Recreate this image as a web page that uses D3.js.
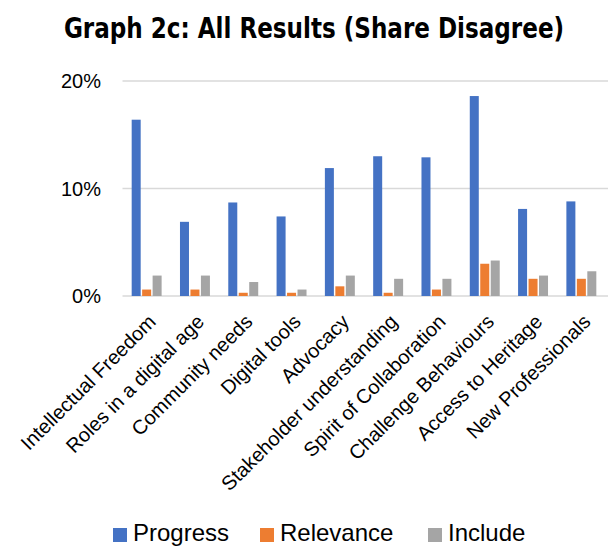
<!DOCTYPE html>
<html>
<head>
<meta charset="utf-8">
<script src="https://cdn.jsdelivr.net/npm/d3@7"></script>
<style>
  body { margin: 0; background: #fff; }
  svg { display: block; }
</style>
</head>
<body>
<svg id="chart" width="610" height="546"></svg>
<script>
const categories = [
  'Intellectual Freedom', 'Roles in a digital age', 'Community needs', 'Digital tools',
  'Advocacy', 'Stakeholder understanding', 'Spirit of Collaboration',
  'Challenge Behaviours', 'Access to Heritage', 'New Professionals'
];
const progress = [16.4, 6.9, 8.7, 7.4, 11.9, 13.0, 12.9, 18.6, 8.1, 8.8];
const relevance = [0.6, 0.6, 0.3, 0.3, 0.9, 0.3, 0.6, 3.0, 1.6, 1.6];
const include = [1.9, 1.9, 1.3, 0.6, 1.9, 1.6, 1.6, 3.3, 1.9, 2.3];
const seriesNames = ['Progress', 'Relevance', 'Include'];
const colors = ['#4472c4', '#ed7d31', '#a5a5a5'];
const yTicks = [0, 10, 20];

const seriesValues = [progress, relevance, include];
const svg = d3.select('#chart');
const font = '"Liberation Sans", Arial, sans-serif';

const plotLeft = 122.5, plotRight = 605.5, plotTop = 81, plotBottom = 296;

const x = d3.scaleBand().domain(categories).range([plotLeft, plotRight]).paddingInner(0.38).paddingOuter(0.19);
const xs = d3.scaleBand().domain(seriesNames).range([0, x.bandwidth()]).paddingInner(0.14);
const y = d3.scaleLinear().domain([0, 20]).range([plotBottom, plotTop]);

// title (condensed bold, squeezed a bit more horizontally)
svg.append('text')
  .attr('transform', 'translate(314,38) scale(0.9,1)')
  .attr('text-anchor', 'middle')
  .style('font-family', '"DejaVu Sans Condensed", "Liberation Sans", sans-serif')
  .style('font-weight', 'bold')
  .style('font-size', '28.5px')
  .attr('fill', '#000')
  .text('Graph 2c: All Results (Share Disagree)');

// gridlines
svg.append('g').selectAll('line')
  .data(yTicks)
  .join('line')
  .attr('x1', plotLeft).attr('x2', 608)
  .attr('y1', d => y(d)).attr('y2', d => y(d))
  .attr('stroke', '#d9d9d9')
  .attr('stroke-width', 1.3);

// y axis labels
svg.append('g').selectAll('text')
  .data(yTicks)
  .join('text')
  .attr('x', 101).attr('y', d => y(d) + 7)
  .attr('text-anchor', 'end')
  .style('font-family', font)
  .style('font-size', '20px')
  .attr('fill', '#000')
  .text(d => d + '%');

// bars
const groups = svg.append('g').selectAll('g')
  .data(categories)
  .join('g')
  .attr('transform', d => `translate(${x(d)},0)`);

groups.selectAll('rect')
  .data((d, i) => seriesNames.map((s, j) => ({ s, v: seriesValues[j][i], c: colors[j] })))
  .join('rect')
  .attr('x', d => xs(d.s))
  .attr('width', xs.bandwidth())
  .attr('y', d => y(d.v))
  .attr('height', d => y(0) - y(d.v))
  .attr('fill', d => d.c);

// category labels
svg.append('g').selectAll('text')
  .data(categories)
  .join('text')
  .attr('transform', d => `translate(${x(d) + x.bandwidth() / 2 + 10.5},${plotBottom + 27}) rotate(-45)`)
  .attr('text-anchor', 'end')
  .style('font-family', font)
  .style('font-size', '20px')
  .attr('fill', '#000')
  .text(d => d);

// legend
const legendX = [113, 260, 428];
const legend = svg.append('g').selectAll('g')
  .data(seriesNames)
  .join('g')
  .attr('transform', (d, i) => `translate(${legendX[i]},528)`);
legend.append('rect')
  .attr('width', 14).attr('height', 14)
  .attr('fill', (d, i) => colors[i]);
legend.append('text')
  .attr('x', 20).attr('y', 13)
  .style('font-family', font)
  .style('font-size', '24px')
  .attr('fill', '#000')
  .text(d => d);
</script>
</body>
</html>
